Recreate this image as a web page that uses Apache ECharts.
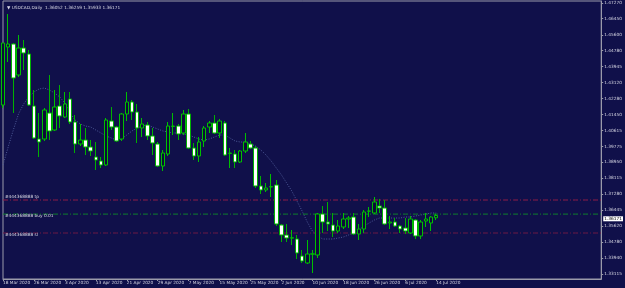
<!DOCTYPE html>
<html><head><meta charset="utf-8">
<script src="https://cdn.jsdelivr.net/npm/echarts@6/dist/echarts.min.js"></script>
<style>html,body{margin:0;padding:0;background:#10104a}#c{width:625px;height:288px}</style>
</head><body><div id="c"></div>
<script>
const dates = [
"18 Mar 2020","19 Mar 2020","20 Mar 2020","23 Mar 2020","24 Mar 2020","25 Mar 2020","26 Mar 2020","27 Mar 2020","30 Mar 2020","31 Mar 2020",
"1 Apr 2020","2 Apr 2020","3 Apr 2020","6 Apr 2020","7 Apr 2020","8 Apr 2020","9 Apr 2020","10 Apr 2020","13 Apr 2020","14 Apr 2020","15 Apr 2020","16 Apr 2020","17 Apr 2020","20 Apr 2020","21 Apr 2020","22 Apr 2020","23 Apr 2020","24 Apr 2020","27 Apr 2020","28 Apr 2020","29 Apr 2020","30 Apr 2020",
"1 May 2020","4 May 2020","5 May 2020","6 May 2020","7 May 2020","8 May 2020","11 May 2020","12 May 2020","13 May 2020","14 May 2020","15 May 2020","18 May 2020","19 May 2020","20 May 2020","21 May 2020","22 May 2020","25 May 2020","26 May 2020","27 May 2020","28 May 2020","29 May 2020",
"1 Jun 2020","2 Jun 2020","3 Jun 2020","4 Jun 2020","5 Jun 2020","8 Jun 2020","9 Jun 2020","10 Jun 2020","11 Jun 2020","12 Jun 2020","15 Jun 2020","16 Jun 2020","17 Jun 2020","18 Jun 2020","19 Jun 2020","22 Jun 2020","23 Jun 2020","24 Jun 2020","25 Jun 2020","26 Jun 2020","29 Jun 2020","30 Jun 2020",
"1 Jul 2020","2 Jul 2020","3 Jul 2020","6 Jul 2020","7 Jul 2020","8 Jul 2020","9 Jul 2020","10 Jul 2020","13 Jul 2020","14 Jul 2020"
];
const emptySlots = 32;
const open = [1.41943,1.44972,1.45129,1.43510,1.44920,1.44607,1.41891,1.40167,1.40167,1.41525,
1.40637,1.41891,1.41316,1.42256,1.41055,1.39906,1.40115,1.39749,1.39227,1.39018,
1.38809,1.41107,1.40794,1.40167,1.41473,1.42100,1.41577,1.40742,1.40898,1.40324,
1.39906,1.38757,1.39384,1.40820,1.40846,1.40480,1.41473,1.39697,1.39279,1.40063,
1.40794,1.41003,1.40480,1.41003,1.39410,1.39384,1.38966,1.39540,1.39906,1.39697,
1.37712,1.37503,1.37660,1.37764,1.35675,1.35153,1.34990,1.34944,1.34056,1.33691,
1.34150,1.34108,1.36250,1.35832,1.35675,1.35362,1.35571,1.35989,1.36093,1.35205,
1.35466,1.36395,1.36302,1.36668,1.36563,1.35780,1.35832,1.35623,1.35519,1.35257,
1.35936,1.35101,1.35884,1.35780,1.36052];
const close = [1.45181,1.45129,1.43353,1.44920,1.44659,1.41943,1.40219,1.40010,1.41682,1.40585,
1.41838,1.41368,1.41995,1.41055,1.39906,1.40115,1.39749,1.39540,1.39070,1.38809,
1.41159,1.40794,1.40063,1.41473,1.42100,1.41577,1.40742,1.40950,1.40324,1.39958,
1.38757,1.39436,1.40846,1.40846,1.40428,1.41473,1.39697,1.39279,1.40010,1.40742,
1.41003,1.40480,1.41107,1.39331,1.39436,1.38966,1.39540,1.40010,1.39697,1.37712,
1.37503,1.37608,1.37680,1.35727,1.35153,1.34996,1.35010,1.34213,1.33795,1.34161,
1.34170,1.36250,1.35832,1.35727,1.35362,1.35623,1.35989,1.36041,1.35205,1.35466,
1.36354,1.36406,1.36877,1.36563,1.35727,1.35832,1.35623,1.35466,1.35362,1.35989,
1.35101,1.35832,1.35989,1.36093,1.36171];
const low = [1.41786,1.44189,1.41525,1.43405,1.43771,1.41891,1.40167,1.39227,1.40063,1.40115,
1.40585,1.40742,1.41264,1.40950,1.39436,1.39801,1.39331,1.39279,1.38548,1.38652,
1.38757,1.40637,1.40010,1.40063,1.41107,1.41159,1.39958,1.40271,1.40115,1.39331,
1.38705,1.38496,1.39279,1.40376,1.40115,1.40376,1.39645,1.39070,1.38966,1.39749,
1.40480,1.40428,1.40219,1.39279,1.38652,1.38652,1.38914,1.39436,1.39645,1.37608,
1.37294,1.37399,1.37138,1.35623,1.34787,1.34787,1.34631,1.33899,1.33691,1.33638,
1.33168,1.33952,1.35257,1.35362,1.35048,1.35257,1.35466,1.35519,1.35153,1.34892,
1.35257,1.36093,1.36250,1.36302,1.35675,1.35466,1.35571,1.35257,1.35205,1.35205,
1.34944,1.34944,1.35571,1.35362,1.35933];
const high = [1.45181,1.46696,1.45181,1.45599,1.45338,1.44815,1.42726,1.41525,1.41786,1.43510,
1.42726,1.42987,1.42622,1.42622,1.41421,1.40950,1.40742,1.40115,1.40010,1.39227,
1.41264,1.41838,1.40846,1.41525,1.42622,1.42204,1.41995,1.41264,1.41055,1.40742,
1.40010,1.39592,1.41055,1.41525,1.40950,1.41682,1.41734,1.39958,1.40271,1.40846,
1.41107,1.41421,1.41212,1.41107,1.39697,1.39592,1.39592,1.40480,1.40063,1.39801,
1.38235,1.37869,1.38339,1.38026,1.35727,1.35727,1.35414,1.35153,1.34369,1.34892,
1.34369,1.36302,1.36668,1.36877,1.36302,1.35936,1.36302,1.36145,1.36302,1.35727,
1.36459,1.36615,1.37138,1.37033,1.36981,1.36145,1.36041,1.35675,1.36041,1.36145,
1.35989,1.35936,1.36302,1.36145,1.36259];
const ma = [1.38809,1.39749,1.40637,1.41473,1.41995,1.42361,1.42622,1.42779,1.42831,1.42726,
1.42570,1.42361,1.42047,1.41525,1.41159,1.40950,1.40846,1.40794,1.40637,1.40480,
1.40324,1.40219,1.40115,1.40167,1.40376,1.40585,1.40742,1.40846,1.40898,1.40794,
1.40689,1.40585,1.40533,1.40480,1.40480,1.40428,1.40376,1.40271,1.40167,1.40115,
1.40167,1.40271,1.40376,1.40376,1.40219,1.40063,1.40010,1.40010,1.39906,1.39801,
1.39592,1.39331,1.39018,1.38652,1.38287,1.37869,1.37451,1.36929,1.36406,1.35832,
1.35362,1.35101,1.34944,1.34944,1.34944,1.34996,1.35048,1.35153,1.35257,1.35414,
1.35623,1.35780,1.35936,1.36041,1.36041,1.36041,1.36041,1.36041,1.36093,1.36093,
1.36145,1.36198,1.36250,1.36302,1.36302];
const yTicks = [1.47270,1.46450,1.45600,1.44780,1.43945,1.43120,1.42280,1.41450,1.40615,1.39775,
1.38950,1.38115,1.37280,1.36445,1.35620,1.34780,1.33940,1.33115];
const xLabelEvery = 6;
const symbolName = "USDCAD,Daily";
const lastPrice = 1.36171;
const orderNames = ["#444368888 tp","#444368888 buy 0.01","#444368888 sl"];
const orderPrices = [1.36981, 1.36245, 1.35257];
const orderColors = ["#8e1c46","#10802c","#6c1844"];
const yMin = 1.32855, yMax = 1.47375;

const cats = dates.concat(Array(emptySlots).fill(""));
const candles = open.map((o,i)=>[o, close[i], low[i], high[i]]);
const fmt5 = v => v.toFixed(5);
const lbl = {color:'#d8d8e4', fontSize:4.3, fontFamily:'DejaVu Sans'};

const orderSeries = orderPrices.map((p,i)=>({
  type:'line', name:orderNames[i], data:cats.map(()=>p), symbol:'none', showSymbol:false, z:2, silent:true,
  lineStyle:{color:orderColors[i], type:[5,2,1,2], width:1},
  markLine:{symbol:['none','none'], silent:true, animation:false,
    lineStyle:{color:'rgba(0,0,0,0)', width:1, type:'solid'},
    label:Object.assign({show:true, position:'insideStartTop', formatter:orderNames[i], distance:[2,1]}, lbl),
    data:[{yAxis:p}]}
}));

const chart = echarts.init(document.getElementById('c'), null, {renderer:'canvas'});
chart.setOption({
  backgroundColor:'#10104a',
  animation:false,
  title:{text:'\u25BC '+symbolName+'  '+[open[84],high[84],low[84],close[84]].map(fmt5).join(' '),
    left:2, top:1, textStyle:{color:'#d8d8e4', fontSize:4.3, fontWeight:'normal', fontFamily:'DejaVu Sans'}},
  grid:{left:1, right:21, top:1, bottom:9, show:true, borderColor:'#9a9aaa', borderWidth:1, backgroundColor:'transparent'},
  xAxis:{type:'category', data:cats, boundaryGap:false,
    axisLine:{show:true, lineStyle:{color:'#9a9aaa', width:1}},
    axisTick:{show:true, length:2, interval:(i)=> i%xLabelEvery===0 && i<dates.length, lineStyle:{color:'#9a9aaa'}},
    axisLabel:Object.assign({show:true, interval:(i)=> i%xLabelEvery===0 && i<dates.length, align:'left', margin:2, hideOverlap:false}, lbl),
    splitLine:{show:false}},
  yAxis:{type:'value', position:'right', min:yMin, max:yMax,
    axisLine:{show:true, lineStyle:{color:'#9a9aaa'}},
    axisTick:{show:true, length:2, customValues:yTicks, lineStyle:{color:'#9a9aaa'}},
    axisLabel:Object.assign({show:true, customValues:yTicks, formatter:fmt5, margin:3}, lbl),
    splitLine:{show:false}},
  series:[
    {type:'line', data:ma, symbol:'none', smooth:false, z:1,
      lineStyle:{color:'#4e5a98', width:1, type:[1,1.5]}},
    ...orderSeries,
    {type:'line', name:'price', data:[], symbol:'none', z:5, silent:true,
      markLine:{symbol:['none','none'], silent:true, animation:false,
        lineStyle:{color:'rgba(0,0,0,0)', width:1, type:'solid'},
        data:[{yAxis:lastPrice}],
        label:{show:true, position:'end', formatter:fmt5(lastPrice), color:'#000000', backgroundColor:'#ffffff',
          fontSize:4.3, fontFamily:'DejaVu Sans', padding:[1,1,0,1], distance:2}}},
    {type:'candlestick', data:candles, barWidth:4, z:3,
      itemStyle:{color:'#0c0c38', color0:'#ffffff', borderColor:'#00c000', borderColor0:'#00b000', borderWidth:1}}
  ]
});
</script></body></html>
